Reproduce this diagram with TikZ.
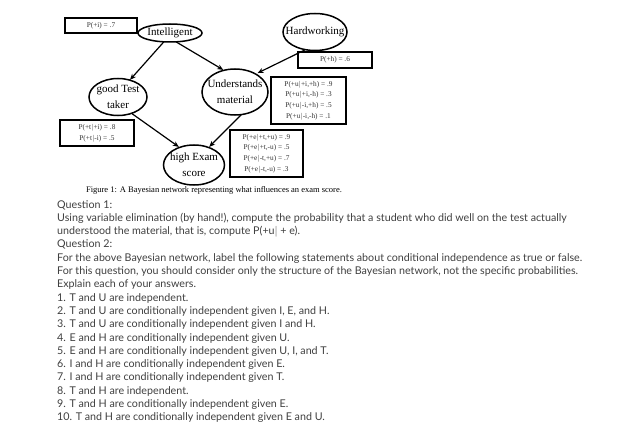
\documentclass[tikz,border=0pt]{standalone}
\usepackage{fontspec}
\setmainfont{Liberation Serif}
\newfontfamily\qfont{Lato}
\usetikzlibrary{shapes.geometric,arrows.meta}
\tikzset{
  var/.style={ellipse,inner sep=0pt,align=center,font=\fontsize{11}{16}\selectfont},
  ring/.style={line width=1.5pt},
  cpt/.style={draw,line width=1.6pt,inner sep=0pt,align=center,text=black!80,font=\fontsize{7.3}{10.5}\selectfont},
  arr/.style={-{Stealth[length=6pt,width=5pt]},line width=1.2pt}
}
\def\CPT#1#2#3#4#5{\node[cpt,minimum width=#3pt,minimum height=#4pt] (#1) at (#2) {#5};}
\begin{document}
\begin{tikzpicture}[x=1pt,y=1pt]
\useasboundingbox[fill=white] (0,0) rectangle (634,-433);
% variables
\node[var,minimum width=64pt,minimum height=18pt] (I) at (170,-33) {Intelligent};
\node[var,minimum width=64pt,minimum height=37pt] (H) at (315,-32) {Hardworking};
\node[var,minimum width=66pt,minimum height=46pt] (U) at (235,-92) {Understands\\material};
\node[var,minimum width=58pt,minimum height=37pt] (T) at (118,-97) {good Test\\taker};
\node[var,minimum width=61pt,minimum height=40pt] (E) at (194,-165) {high Exam\\score};
\foreach \n/\rx/\ry in {I/32/9,H/32/18.5,U/33/23,T/29/18.5,E/30.5/20}
  \draw[ring] (\n.center) ellipse [x radius=\rx pt,y radius=\ry pt];
% tables
\CPT{pI}{101,-25.5}{72}{15}{P(+i) = .7}
\CPT{pH}{335,-60}{74}{16}{P(+h) = .6}
\CPT{pU}{308.5,-100.5}{75}{47}{P(+u$|$+i,+h) = .9\\P(+u$|$+i,-h) = .3\\P(+u$|$-i,+h) = .5\\P(+u$|$-i,-h) = .1}
\CPT{pT}{97,-133}{74}{26}{P(+t$|$+i) = .8\\P(+t$|$-i) = .5}
\CPT{pE}{266.5,-153.5}{73}{47}{P(+e$|$+t,+u) = .9\\P(+e$|$+t,-u) = .5\\P(+e$|$-t,+u) = .7\\P(+e$|$-t,-u) = .3}
% edges
\draw[arr] (I.-125) -- (T.55);
\draw[arr] (I.-55) -- (U.118);
\draw[arr] (H.-120) -- (U.40);
\draw[arr] (T.-50) -- (E.130);
\draw[arr] (U.-75) -- (E.50);
\node[font=\fontsize{8.5}{10}\selectfont] (cap) at (214,-190) {Figure 1: A Bayesian network representing what influences an exam score.};
\node[anchor=north west,inner sep=0pt,align=left,text=black!75,font=\qfont\fontsize{10.7}{13.3}\selectfont] (qs) at (57,-200) {Question 1:\\
Using variable elimination (by hand!), compute the probability that a student who did well on the test actually\\
understood the material, that is, compute P(+u$|$ + e).\\
Question 2:\\
For the above Bayesian network, label the following statements about conditional independence as true or false.\\
For this question, you should consider only the structure of the Bayesian network, not the specific probabilities.\\
Explain each of your answers.\\
1. T and U are independent.\\
2. T and U are conditionally independent given I, E, and H.\\
3. T and U are conditionally independent given I and H.\\
4. E and H are conditionally independent given U.\\
5. E and H are conditionally independent given U, I, and T.\\
6. I and H are conditionally independent given E.\\
7. I and H are conditionally independent given T.\\
8. T and H are independent.\\
9. T and H are conditionally independent given E.\\
10. T and H are conditionally independent given E and U.};
\end{tikzpicture}
\end{document}
